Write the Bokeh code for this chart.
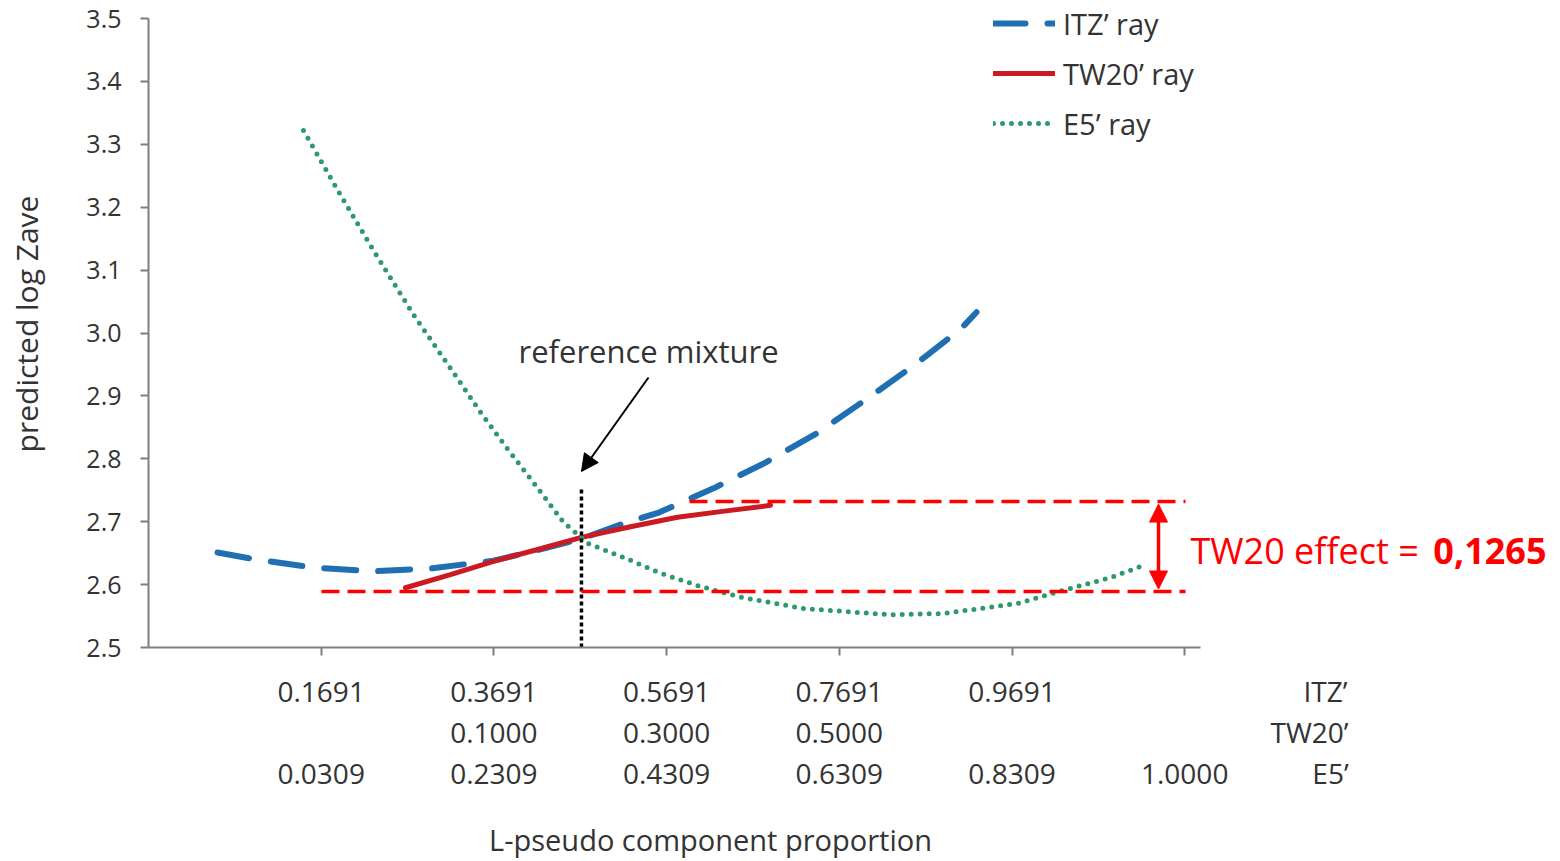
from bokeh.plotting import figure
from bokeh.models import (LinearAxis, FixedTicker, Range1d, Legend, LegendItem,
                          Label, Arrow, NormalHead)
from bokeh.embed import file_html
from bokeh.resources import INLINE

FONT = "Open Sans"
TXT = "#333333"
AX = "#7f7f7f"

# ---------------- data ----------------
# x coordinate: position along the rays, expressed on the ITZ' proportion scale
x_ticks = [0.1691, 0.3691, 0.5691, 0.7691, 0.9691, 1.1691]
itz_labels = ["0.1691", "0.3691", "0.5691", "0.7691", "0.9691", ""]
tw20_labels = ["", "0.1000", "0.3000", "0.5000", "", ""]
e5_labels = ["0.0309", "0.2309", "0.4309", "0.6309", "0.8309", "1.0000"]
row_names = ["ITZ\u2019", "TW20\u2019", "E5\u2019"]
x_title = "L-pseudo component proportion"

y_ticks = [2.5, 2.6, 2.7, 2.8, 2.9, 3.0, 3.1, 3.2, 3.3, 3.4, 3.5]
y_labels = ["2.5", "2.6", "2.7", "2.8", "2.9", "3.0", "3.1", "3.2", "3.3", "3.4", "3.5"]

itz_x = [0.0490, 0.0930, 0.1602, 0.2285, 0.2980, 0.3686, 0.4231, 0.4705, 0.5192,
         0.5609, 0.6234, 0.6836, 0.7450, 0.8018, 0.8550, 0.9095, 0.9280]
itz_y = [2.651, 2.640, 2.627, 2.621, 2.626, 2.638, 2.656, 2.673, 2.697,
         2.715, 2.753, 2.794, 2.842, 2.896, 2.948, 3.006, 3.033]

tw20_x = [0.2667, 0.3188, 0.3686, 0.4231, 0.4705, 0.5273, 0.5817, 0.6315, 0.6894]
tw20_y = [2.595, 2.616, 2.637, 2.657, 2.675, 2.692, 2.707, 2.716, 2.726]

e5_x = [0.1486, 0.1857, 0.2297, 0.2760, 0.3188, 0.3536, 0.3825, 0.4173, 0.4497,
        0.4787, 0.5250, 0.5620, 0.6084, 0.6547, 0.7276, 0.8284, 0.8898, 0.9755,
        1.0368, 1.0832, 1.1202]
e5_y = [3.322, 3.233, 3.131, 3.029, 2.944, 2.874, 2.820, 2.758, 2.699,
        2.665, 2.640, 2.618, 2.597, 2.580, 2.562, 2.552, 2.554, 2.570,
        2.594, 2.611, 2.630]

ref_x = 0.4705
ref_y_top = 2.754
effect_hi = 2.732
effect_lo = 2.589
effect_text = "TW20 effect = "
effect_value = "0,1265"

# ---------------- layout constants ----------------
X0 = -0.0309
PX_PER_UNIT = 863.5
FRAME_W = 1412
FRAME_H = 647
Y_PX = 629.0
x_end = X0 + FRAME_W / PX_PER_UNIT
y_end = 2.5 + FRAME_H / Y_PX
axis_end = X0 + 1052 / PX_PER_UNIT


def xpx(px):
    return X0 + (px - 148) / PX_PER_UNIT


def ypx(py):
    return 2.5 + (647 - py) / Y_PX


p = figure(width=1560, height=861, output_backend="svg", toolbar_location=None,
           x_range=Range1d(X0, x_end), y_range=Range1d(2.5, y_end),
           min_border_left=148, min_border_right=0, min_border_top=0,
           min_border_bottom=214)
p.outline_line_color = None
p.xgrid.visible = False
p.ygrid.visible = False
p.background_fill_color = "white"
p.border_fill_color = "white"

# y axis
ya = p.yaxis[0]
ya.bounds = (2.5, 3.5)
ya.ticker = FixedTicker(ticks=y_ticks)
ya.major_label_overrides = {t: l for t, l in zip(y_ticks, y_labels)}
ya.major_tick_out = 8
ya.major_tick_in = 0
ya.minor_tick_line_color = None
ya.axis_line_color = AX
ya.axis_line_width = 2
ya.major_tick_line_color = AX
ya.major_tick_line_width = 2
ya.major_label_standoff = 19
ya.major_label_text_font = FONT
ya.major_label_text_font_size = "25px"
ya.major_label_text_color = TXT
ya.axis_label = "predicted log Zave"
ya.axis_label_text_font = FONT
ya.axis_label_text_font_size = "30px"
ya.axis_label_text_font_style = "normal"
ya.axis_label_text_color = TXT
ya.axis_label_standoff = 36


def style_labels(ax, standoff, size="28px"):
    ax.major_label_standoff = standoff
    ax.major_label_text_font = FONT
    ax.major_label_text_font_size = size
    ax.major_label_text_color = TXT


# x axis: line and tick marks only
xa = p.xaxis[0]
xa.bounds = (X0, axis_end)
xa.ticker = FixedTicker(ticks=x_ticks)
xa.major_label_overrides = {t: "" for t in x_ticks}
xa.major_label_standoff = 0
xa.major_tick_out = 8
xa.major_tick_in = 0
xa.minor_tick_line_color = None
xa.axis_line_color = AX
xa.axis_line_width = 2
xa.major_tick_line_color = AX
xa.major_tick_line_width = 2

row_x = {"ITZ\u2019": xpx(1325), "TW20\u2019": xpx(1309), "E5\u2019": xpx(1330)}


def label_axis(labels, row_name, standoff):
    ticks, over = [], {}
    for t, l in zip(x_ticks, labels):
        if l:
            ticks.append(t)
            over[t] = l
    rx = row_x[row_name]
    ticks.append(rx)
    over[rx] = row_name
    ax = LinearAxis(ticker=FixedTicker(ticks=ticks), major_label_overrides=over)
    ax.axis_line_color = None
    ax.major_tick_line_color = None
    ax.minor_tick_line_color = None
    ax.major_tick_out = 0
    ax.major_tick_in = 0
    style_labels(ax, standoff)
    p.add_layout(ax, "below")
    return ax


label_axis(itz_labels, row_names[0], 16)
label_axis(tw20_labels, row_names[1], 0)
label_axis(e5_labels, row_names[2], 0)

tx = xpx(710)
title_ax = LinearAxis(ticker=FixedTicker(ticks=[tx]), major_label_overrides={tx: x_title})
title_ax.axis_line_color = None
title_ax.major_tick_line_color = None
title_ax.minor_tick_line_color = None
title_ax.major_tick_out = 0
title_ax.major_tick_in = 0
style_labels(title_ax, 25, "29px")
p.add_layout(title_ax, "below")

# ---------------- curves ----------------
r_itz = p.line(itz_x, itz_y, line_color="#1f6fb2", line_width=6,
               line_dash="32 22", line_cap="round")
r_tw = p.line(tw20_x, tw20_y, line_color="#cc1a22", line_width=5, line_cap="round")
r_e5 = p.line(e5_x, e5_y, line_color="#2e9a6c", line_width=5,
              line_dash="0 9", line_cap="round")

# reference mixture vertical dotted line
p.line([ref_x, ref_x], [2.5, ref_y_top], line_color="black", line_width=3.5,
       line_dash="4 3")

# effect lines
p.line([xpx(321), xpx(1185)], [effect_lo, effect_lo], line_color="#ff0000",
       line_width=3.5, line_dash="18 8")
p.line([xpx(689), xpx(1185)], [effect_hi, effect_hi], line_color="#ff0000",
       line_width=3.5, line_dash="18 8")

p.add_layout(Arrow(x_start=xpx(1158), y_start=effect_lo + 0.004,
                   x_end=xpx(1158), y_end=effect_hi - 0.004,
                   line_color="#ff0000", line_width=3.5,
                   start=NormalHead(size=18, fill_color="#ff0000", line_color="#ff0000"),
                   end=NormalHead(size=18, fill_color="#ff0000", line_color="#ff0000")))

p.add_layout(Arrow(x_start=xpx(648), y_start=ypx(377), x_end=ref_x, y_end=ypx(471),
                   line_color="black", line_width=2,
                   end=NormalHead(size=17, fill_color="black", line_color="black")))

p.add_layout(Label(x=xpx(518), y=ypx(350), text="reference mixture",
                   text_font=FONT, text_font_size="31px", text_color=TXT,
                   text_baseline="middle", text_align="left"))

p.add_layout(Label(x=xpx(1190), y=ypx(550), text=effect_text,
                   text_font=FONT, text_font_size="36px", text_color="#ff0000",
                   text_baseline="middle", text_align="left"))
p.add_layout(Label(x=xpx(1546), y=ypx(550), text=effect_value,
                   text_font=FONT, text_font_size="36px", text_color="#ff0000",
                   text_font_style="bold",
                   text_baseline="middle", text_align="right"))

legend = Legend(items=[LegendItem(label="ITZ\u2019 ray", renderers=[r_itz]),
                       LegendItem(label="TW20\u2019 ray", renderers=[r_tw]),
                       LegendItem(label="E5\u2019 ray", renderers=[r_e5])],
                location=(845, 504), orientation="vertical",
                border_line_color=None, background_fill_alpha=0,
                padding=0, margin=0, spacing=10,
                glyph_width=62, glyph_height=40, label_height=40,
                label_standoff=8, label_text_font=FONT,
                label_text_font_size="29px", label_text_color=TXT)
p.add_layout(legend)

open("out.html", "w").write(file_html(p, INLINE))
